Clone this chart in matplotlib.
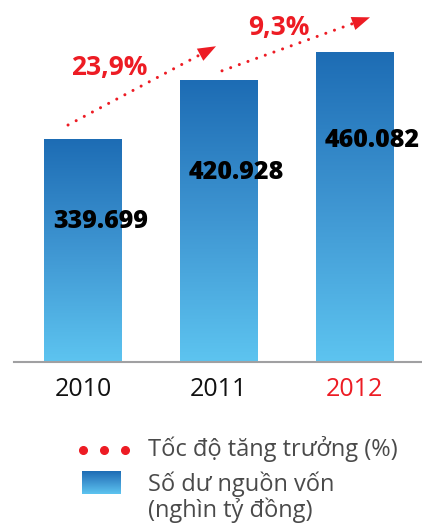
import matplotlib
matplotlib.use("Agg")
import matplotlib.pyplot as plt
import numpy as np
from matplotlib.colors import LinearSegmentedColormap

# data
years = ["2010", "2011", "2012"]
values = [339.699, 420.928, 460.082]
value_labels = ["339.699", "420.928", "460.082"]
growth_labels = ["23,9%", "9,3%"]
tick_colors = ["#111111", "#111111", "#ed1c24"]
legend_labels = ["Tốc độ tăng trưởng (%)", "Số dư nguồn vốn\n(nghìn tỷ đồng)"]

RED = "#ed1c24"
GREY = "#4a4a4a"
grad = LinearSegmentedColormap.from_list("bar", ["#5dc4f0", "#3f96d2", "#1d6cb4"])
grad_img = np.linspace(0, 1, 256).reshape(-1, 1)

fig = plt.figure(figsize=(4.22, 5.30), dpi=100)
ax = fig.add_axes([14 / 422, 1 - 362 / 530, 1 - 14 / 422, 362 / 530])
ax.set_xlim(-0.508, 2.497)
ax.set_ylim(31, 532)

x = np.arange(len(years))
width = 0.574
bars = ax.bar(x, values, width=width, color="none", edgecolor="none")
ymin = ax.get_ylim()[0]
for b, v in zip(bars, values):
    im = ax.imshow(grad_img, cmap=grad, origin="lower", aspect="auto",
                   extent=[b.get_x(), b.get_x() + width, ymin, v], zorder=1)
    im.set_clip_path(b)

# value labels inside bars (drop below bar top)
label_drop = [114, 128, 122]
for xi, v, lab, d in zip(x, values, value_labels, label_drop):
    ax.text(xi - width / 2 + 0.065, v - d, lab, ha="left", va="center",
            fontsize=18, fontweight="heavy", family="Open Sans", color="black", zorder=3)

# growth arrows (dotted shaft + filled head)
arrow_starts = [(x[0] - 0.11, 359), (x[1] + 0.024, 434)]
arrow_ends = [(x[0] + 0.98, 468), (x[1] + 1.114, 508)]
label_pos = [(0.196, 439), (1.446, 494)]
for (x0, y0), (x1, y1), lab, (tx, ty) in zip(arrow_starts, arrow_ends, growth_labels, label_pos):
    ax.plot([x0, x0 + (x1 - x0) * 0.9], [y0, y0 + (y1 - y0) * 0.9], color=RED, lw=2.2,
            ls=(0, (0.01, 3)), dash_capstyle="round", zorder=2)
    ax.annotate("", xy=(x1, y1), xytext=(x0 + (x1 - x0) * 0.5, y0 + (y1 - y0) * 0.5),
                arrowprops=dict(arrowstyle="-|>,head_length=1.0,head_width=0.38",
                                color=RED, lw=0, mutation_scale=13,
                                shrinkA=0, shrinkB=0))
    ax.text(tx, ty, lab, ha="center", va="center", fontsize=19, fontweight="bold",
            family="Open Sans", color=RED)

for s in ["top", "right", "left"]:
    ax.spines[s].set_visible(False)
ax.spines["bottom"].set_color("#a0a0a2")
ax.spines["bottom"].set_linewidth(1.5)
ax.set_yticks([])
ax.set_xticks(x)
ax.set_xticklabels(years, fontsize=18, family="Open Sans")
for t, c in zip(ax.get_xticklabels(), tick_colors):
    t.set_color(c)
ax.tick_params(axis="x", length=0, pad=11)

# legend drawn in its own pixel-coordinate axes
lg = fig.add_axes([0, 0, 1, 110 / 530])
lg.axis("off")
lg.plot([83, 104, 125], [450, 450, 450], ls="none", marker="o", ms=5.5, color=RED)
lg.imshow(grad_img, cmap=grad, origin="lower", aspect="auto", extent=[82, 121, 494, 471])
lg.set_xlim(0, 422)
lg.set_ylim(530, 420)
lg.text(148, 449, legend_labels[0], ha="left", va="center", fontsize=17,
        family="Open Sans", color=GREY)
lg.text(148, 497, legend_labels[1], ha="left", va="center", fontsize=17,
        family="Open Sans", color=GREY, linespacing=1.05)

fig.savefig("out.png", dpi=100)
